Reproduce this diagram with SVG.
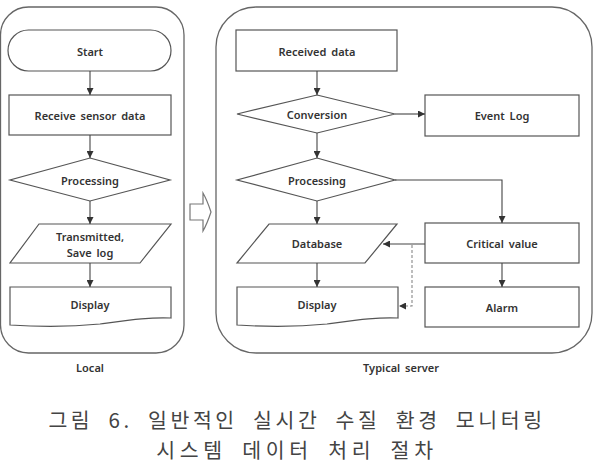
<svg xmlns="http://www.w3.org/2000/svg" width="594" height="464" viewBox="0 0 594 464">
<defs>
<marker id="ah" viewBox="0 0 8 8" refX="8" refY="4" markerWidth="7" markerHeight="7" markerUnits="userSpaceOnUse" orient="auto">
<path d="M0,0 L8,4 L0,8 Z" fill="#333"/>
</marker>
<style>
.panel{fill:#fff;stroke:#666;stroke-width:1.3}
.node{fill:#fff;stroke:#555;stroke-width:1.2}
.lbl{font-family:"Noto Sans","DejaVu Sans",sans-serif;font-weight:600;font-size:11px;fill:#333;text-anchor:middle;dominant-baseline:central;word-spacing:2px}
.conn{fill:none;stroke:#444;stroke-width:1.1;marker-end:url(#ah)}
.dash{fill:none;stroke:#888;stroke-width:1.1;stroke-dasharray:3,2;marker-end:url(#ah)}
.cap{font-family:"Noto Sans CJK KR","Noto Sans",sans-serif;font-size:20.5px;fill:#444;text-anchor:middle}
</style>
</defs>
<rect width="594" height="464" fill="#fff"/>
<g id="panel-local"><rect class="panel" x="0.5" y="7" width="183.5" height="346" rx="28"/><text class="lbl" x="90" y="367">Local</text></g>
<g id="panel-server"><rect class="panel" x="216" y="7" width="376" height="346" rx="40"/><text class="lbl" x="401" y="367">Typical server</text></g>
<g id="bigarrow"><path d="M190,204 H203 V193 Q207,200 211,212 Q207,224 203,231 V220 H190 Z" fill="#fff" stroke="#777" stroke-width="1.2"/></g>

<g id="l-start"><rect class="node" x="8" y="30" width="163" height="41" rx="20.5"/><text class="lbl" x="90" y="51">Start</text></g>
<g id="l-receive"><rect class="node" x="9" y="95" width="162" height="40"/><text class="lbl" x="90" y="115">Receive sensor data</text></g>
<g id="l-processing"><polygon class="node" points="90,158 170,180 90,201 10,180"/><text class="lbl" x="90" y="180">Processing</text></g>
<g id="l-transmit"><polygon class="node" points="39,224 171,224 140,263 10,263"/><text class="lbl" x="90" y="236">Transmitted,</text><text class="lbl" x="90" y="252">Save log</text></g>
<g id="l-display"><path class="node" d="M10,287 H171 V318 C150,317 130,320 100,324 C70,327 40,327 10,325 Z"/><text class="lbl" x="90" y="304">Display</text></g>

<g id="r-received"><rect class="node" x="236" y="30" width="161" height="41"/><text class="lbl" x="317" y="51">Received data</text></g>
<g id="r-conversion"><polygon class="node" points="317,95 395,114 317,133 237,114"/><text class="lbl" x="317" y="114">Conversion</text></g>
<g id="r-eventlog"><rect class="node" x="425" y="95" width="154" height="41"/><text class="lbl" x="502" y="115">Event Log</text></g>
<g id="r-processing"><polygon class="node" points="317,158 395,180 317,201 237,180"/><text class="lbl" x="317" y="180">Processing</text></g>
<g id="r-database"><polygon class="node" points="269,224 397,224 365,263 237,263"/><text class="lbl" x="317" y="243">Database</text></g>
<g id="r-critical"><rect class="node" x="425" y="223" width="154" height="40"/><text class="lbl" x="502" y="243">Critical value</text></g>
<g id="r-display"><path class="node" d="M237,287 H398 V318 C377,317 357,320 327,324 C297,327 267,327 237,325 Z"/><text class="lbl" x="317" y="304">Display</text></g>
<g id="r-alarm"><rect class="node" x="425" y="287" width="154" height="40"/><text class="lbl" x="502" y="307">Alarm</text></g>

<g id="connectors">
<line class="conn" x1="90" y1="71" x2="90" y2="95"/>
<line class="conn" x1="90" y1="135" x2="90" y2="158"/>
<line class="conn" x1="90" y1="201" x2="90" y2="224"/>
<line class="conn" x1="90" y1="263" x2="90" y2="287"/>
<line class="conn" x1="317" y1="71" x2="317" y2="95"/>
<line class="conn" x1="395" y1="114" x2="425" y2="114"/>
<line class="conn" x1="317" y1="133" x2="317" y2="158"/>
<line class="conn" x1="317" y1="201" x2="317" y2="224"/>
<polyline class="conn" points="395,180 502,180 502,223"/>
<line class="conn" x1="425" y1="244" x2="383" y2="244"/>
<line class="conn" x1="317" y1="263" x2="317" y2="287"/>
<line class="conn" x1="502" y1="263" x2="502" y2="287"/>
<polyline class="dash" points="412,245 412,306 399,306"/>
</g>

<g id="caption">
<text class="cap" x="297" y="428" letter-spacing="3.6" word-spacing="7">그림 6. 일반적인 실시간 수질 환경 모니터링</text>
<text class="cap" x="297" y="458" letter-spacing="4.7" word-spacing="6">시스템 데이터 처리 절차</text>
</g>
</svg>
